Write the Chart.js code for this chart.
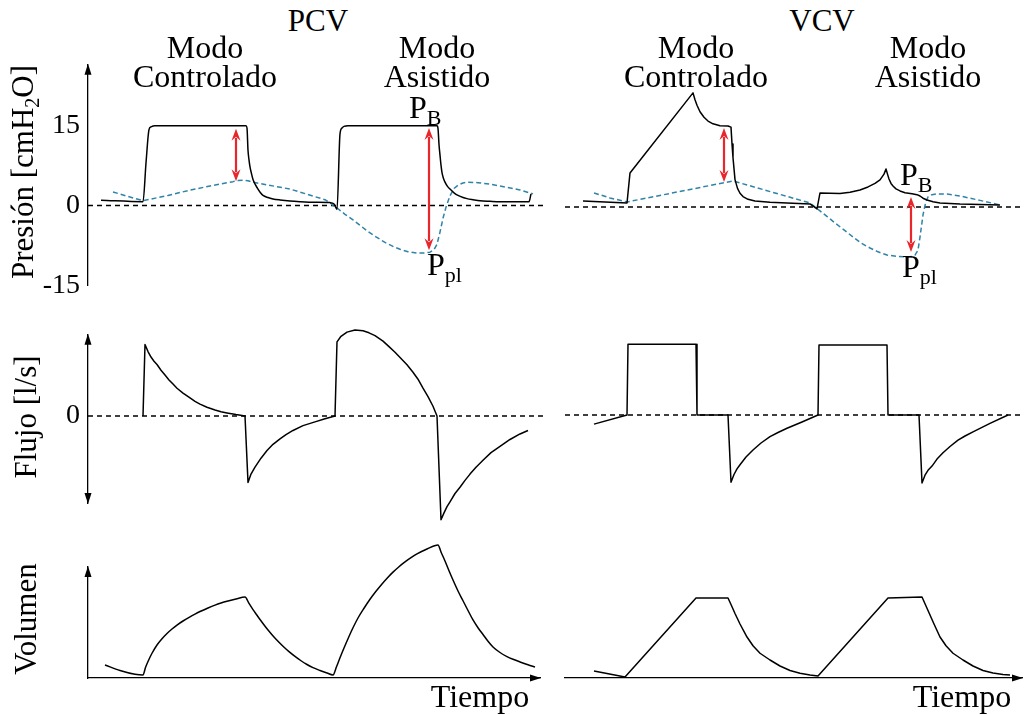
<!DOCTYPE html>
<html lang="es">
<head>
<meta charset="utf-8">
<title>PCV / VCV</title>
<script src="https://cdn.jsdelivr.net/npm/chart.js@4.4.1/dist/chart.umd.min.js"></script>
<style>
  html, body { margin: 0; padding: 0; background: #fff; }
  #fig { position: relative; width: 1024px; height: 715px; overflow: hidden;
         font-family: "Liberation Serif", "Times New Roman", serif; color: #000; }
  #fig canvas { position: absolute; }
  .lbl { position: absolute; font-size: 32px; line-height: 32px; white-space: nowrap; }
  .c { transform: translateX(-50%); text-align: center; }
  .mode { line-height: 29px; }
  .rot { transform: translate(-50%, -50%) rotate(-90deg); font-size: 31px; line-height: 31px; }
  .sub { font-size: 22px; vertical-align: -7px; }
  .sub2 { font-size: 20px; vertical-align: -6px; }
</style>
</head>
<body>
<div id="fig">
  <canvas id="pcvP" width="548" height="270" style="left:0;top:40px"></canvas>
  <canvas id="vcvP" width="476" height="270" style="left:548px;top:40px"></canvas>
  <canvas id="pcvF" width="548" height="230" style="left:0;top:310px"></canvas>
  <canvas id="vcvF" width="476" height="230" style="left:548px;top:310px"></canvas>
  <canvas id="pcvV" width="548" height="175" style="left:0;top:540px"></canvas>
  <canvas id="vcvV" width="476" height="175" style="left:548px;top:540px"></canvas>

  <div class="lbl c" style="left:318px;top:5px;font-size:31px">PCV</div>
  <div class="lbl c" style="left:822px;top:5px;font-size:31px">VCV</div>
  <div class="lbl c mode" style="left:205px;top:33px">Modo<br>Controlado</div>
  <div class="lbl c mode" style="left:437px;top:33px">Modo<br>Asistido</div>
  <div class="lbl c mode" style="left:696px;top:33px">Modo<br>Controlado</div>
  <div class="lbl c mode" style="left:928px;top:33px">Modo<br>Asistido</div>

  <div class="lbl" style="left:409px;top:91px">P<span class="sub">B</span></div>
  <div class="lbl" style="left:427px;top:248px">P<span class="sub">pl</span></div>
  <div class="lbl" style="left:900px;top:158px">P<span class="sub">B</span></div>
  <div class="lbl" style="left:902px;top:250px">P<span class="sub">pl</span></div>

  <div class="lbl rot" style="left:27px;top:172px">Presión [cmH<span class="sub2">2</span>O]</div>
  <div class="lbl rot" style="left:25px;top:417px">Flujo [l/s]</div>
  <div class="lbl rot" style="left:25px;top:619px">Volumen</div>

  <div class="lbl c" style="left:480px;top:680px">Tiempo</div>
  <div class="lbl c" style="left:962px;top:680px">Tiempo</div>
</div>

<script>
// time axis (arbitrary units) and pressure / flow / volume samples, [t, value]
const T_MAX = 9.14;
const T_MAX_VOL = 9.04;

const pressureTicks = [-15, 0, 15];
const flowTicks = [0];

const pcvPaw = [[0.26,1.0],[1.10,0.73],[1.16,8.0],[1.22,14.3],[1.26,14.8],[1.34,15.0],[3.16,15.0],
  [3.18,14.6],[3.20,10.4],[3.22,8.6],[3.24,7.3],[3.27,6.0],[3.30,4.9],[3.35,3.9],[3.40,3.1],
  [3.45,2.4],[3.50,1.9],[3.60,1.5],[3.70,1.25],[3.84,1.05],[4.04,0.85],[4.24,0.73],[4.54,0.62],
  [4.84,0.55],[4.92,0.3],[4.98,-0.73],[5.04,13.5],[5.08,14.6],[5.12,14.9],[5.20,15.0],[6.98,15.0],
  [7.00,14.5],[7.02,11.5],[7.04,9.5],[7.06,7.6],[7.08,6.2],[7.11,5.1],[7.14,4.4],[7.19,3.6],
  [7.24,3.1],[7.32,2.4],[7.40,1.9],[7.50,1.5],[7.58,1.3],[7.70,1.1],[7.84,0.9],[8.04,0.8],
  [8.24,0.73],[8.82,0.73],[8.86,2.2]];

const pcvPpl = [[0.50,2.56],[0.80,1.7],[1.10,0.91],[1.60,1.9],[2.04,2.9],[2.50,3.8],[2.90,4.5],
  [3.00,4.7],[3.10,4.75],[3.20,4.65],[3.30,4.39],[4.04,3.1],[4.74,1.1],[4.84,0.5],[4.90,0],
  [5.00,-0.6],[5.14,-1.65],[5.30,-2.7],[5.45,-3.8],[5.58,-4.75],[5.76,-5.9],[5.94,-6.95],
  [6.10,-7.7],[6.24,-8.23],[6.40,-8.7],[6.58,-8.96],[6.72,-8.95],[6.84,-8.78],[6.92,-8.3],
  [6.98,-7.3],[7.04,-5.0],[7.10,-2.4],[7.16,-0.3],[7.24,1.83],[7.32,3.2],[7.40,3.84],[7.50,4.25],
  [7.58,4.39],[7.80,4.3],[8.04,4.02],[8.34,3.5],[8.64,2.93],[8.90,2.2]];

const vcvPaw = [[0.36,1.1],[1.24,0.73],[1.30,6.22],[2.56,20.85],[2.60,19.6],[2.64,18.6],[2.70,17.4],
  [2.78,16.4],[2.86,15.7],[2.96,15.2],[3.10,14.85],[3.26,14.8],[3.32,14.6],[3.34,11.5],[3.36,9.0],
  [3.38,7.0],[3.40,5.0],[3.45,3.4],[3.50,2.5],[3.56,1.9],[3.66,1.4],[3.80,1.1],[4.10,0.85],
  [4.44,0.73],[4.90,0.55],[5.04,-0.37],[5.10,2.56],[5.30,2.5],[5.50,2.45],[5.70,2.7],[5.90,3.1],
  [6.06,3.66],[6.20,4.3],[6.30,4.94],[6.38,6.0],[6.42,6.95],[6.45,6.0],[6.48,5.1],[6.52,4.3],
  [6.56,3.84],[6.62,3.3],[6.70,2.93],[6.80,2.6],[6.94,2.4],[7.04,2.25],[7.10,2.0],[7.16,1.6],
  [7.24,1.28],[7.36,0.95],[7.50,0.73],[7.90,0.55],[8.70,0.37]];

const vcvPpl = [[0.58,2.56],[0.90,1.65],[1.24,0.91],[3.36,4.75],[4.90,0.73],[5.00,0.0],[5.10,-0.73],
  [5.25,-1.8],[5.40,-2.93],[5.58,-4.2],[5.76,-5.49],[5.92,-6.6],[6.10,-7.5],[6.26,-8.2],[6.44,-8.78],
  [6.64,-9.05],[6.84,-9.15],[6.94,-9.05],[7.00,-8.8],[7.06,-7.9],[7.10,-5.5],[7.16,-1.46],
  [7.21,0.7],[7.26,1.83],[7.34,2.25],[7.44,2.38],[7.64,2.35],[7.90,2.0],[8.30,1.2],[8.70,0.37]];

const pcvFlow = [[1.10,0],[1.14,1.03],[1.20,0.93],[1.26,0.85],[1.32,0.79],[1.38,0.743],[1.46,0.66],
  [1.54,0.59],[1.62,0.52],[1.70,0.46],[1.78,0.40],[1.90,0.33],[2.04,0.26],[2.14,0.21],[2.24,0.171],
  [2.38,0.125],[2.54,0.085],[2.66,0.06],[2.78,0.043],[2.96,0.02],[3.14,0],[3.20,-0.96],[3.26,-0.84],
  [3.34,-0.74],[3.46,-0.61],[3.58,-0.5],[3.70,-0.41],[3.84,-0.33],[3.96,-0.27],[4.10,-0.21],
  [4.30,-0.14],[4.54,-0.086],[4.74,-0.04],[4.94,0],[4.98,1.07],[5.06,1.15],[5.18,1.21],[5.34,1.24],
  [5.50,1.23],[5.62,1.2],[5.74,1.16],[5.90,1.08],[6.02,1.0],[6.14,0.92],[6.26,0.83],[6.38,0.74],
  [6.50,0.63],[6.60,0.53],[6.70,0.40],[6.80,0.28],[6.90,0.14],[6.98,0],[7.06,-1.5],[7.12,-1.4],
  [7.18,-1.31],[7.24,-1.24],[7.34,-1.12],[7.44,-1.03],[7.54,-0.93],[7.64,-0.84],[7.76,-0.74],
  [7.90,-0.64],[8.06,-0.53],[8.24,-0.44],[8.44,-0.34],[8.64,-0.26],[8.80,-0.21]];

const vcvFlow = [[0.58,-0.13],[1.24,0],[1.26,1.01],[2.62,1.01],[2.64,0],[3.26,0],[3.32,-0.96],
  [3.38,-0.85],[3.44,-0.77],[3.50,-0.71],[3.62,-0.6],[3.76,-0.5],[3.92,-0.4],[4.10,-0.31],
  [4.26,-0.25],[4.44,-0.19],[4.74,-0.1],[5.06,0],[5.08,1.0],[6.44,1.0],[6.46,0],[7.08,0],
  [7.14,-0.97],[7.20,-0.86],[7.26,-0.79],[7.34,-0.73],[7.44,-0.63],[7.56,-0.54],[7.70,-0.45],
  [7.86,-0.36],[8.00,-0.3],[8.16,-0.24],[8.50,-0.12],[8.86,0]];

const pcvVol = [[0.34,0.087],[0.64,0.05],[0.94,0.025],[1.10,0.02],[1.15,0.07],[1.20,0.11],
  [1.28,0.165],[1.38,0.22],[1.48,0.262],[1.58,0.297],[1.68,0.327],[1.78,0.353],[1.90,0.38],
  [2.04,0.408],[2.14,0.426],[2.24,0.443],[2.40,0.467],[2.54,0.486],[2.66,0.50],[2.78,0.512],
  [2.96,0.527],[3.14,0.54],[3.22,0.497],[3.30,0.456],[3.38,0.418],[3.44,0.39],[3.56,0.337],
  [3.68,0.289],[3.80,0.245],[3.90,0.212],[4.02,0.176],[4.14,0.144],[4.26,0.115],[4.38,0.09],
  [4.50,0.069],[4.64,0.05],[4.78,0.033],[4.90,0.02],[4.97,0.075],[5.04,0.135],[5.12,0.20],
  [5.20,0.262],[5.30,0.335],[5.40,0.40],[5.52,0.465],[5.64,0.525],[5.76,0.578],[5.88,0.627],
  [6.00,0.672],[6.10,0.706],[6.22,0.742],[6.34,0.774],[6.46,0.802],[6.58,0.827],[6.78,0.86],
  [7.00,0.887],[7.06,0.84],[7.14,0.78],[7.22,0.715],[7.30,0.653],[7.40,0.58],[7.50,0.515],
  [7.60,0.45],[7.70,0.387],[7.80,0.335],[7.90,0.29],[8.00,0.245],[8.10,0.207],[8.24,0.17],
  [8.38,0.143],[8.50,0.125],[8.64,0.107],[8.80,0.088],[8.94,0.073]];

const vcvVol = [[0.58,0.047],[1.20,0.007],[2.62,0.533],[3.26,0.533],[3.32,0.49],[3.40,0.43],
  [3.50,0.36],[3.64,0.273],[3.76,0.215],[3.90,0.165],[4.10,0.12],[4.30,0.08],[4.50,0.05],
  [4.70,0.032],[4.90,0.02],[5.06,0.013],[6.46,0.533],[7.14,0.54],[7.20,0.495],[7.28,0.435],
  [7.38,0.36],[7.50,0.273],[7.62,0.215],[7.76,0.165],[7.96,0.12],[8.16,0.08],[8.36,0.05],
  [8.56,0.033],[8.76,0.024],[8.90,0.02]];

// alveolar-minus-pleural gradient markers: time, upper and lower pressure
const pcvArrows = [{t: 2.96, from: 14.45, to: 4.57}, {t: 6.82, from: 14.6, to: -8.4}];
const vcvArrows = [{t: 3.18, from: 14.45, to: 4.57}, {t: 6.92, from: 1.83, to: -8.23}];

const SERIF = '"Liberation Serif", "Times New Roman", serif';
const BLUE = '#2f83a8';
const RED = '#e8262c';

const xy = pts => pts.map(p => ({x: p[0], y: p[1]}));

// smooth = monotone cubic through the samples, otherwise straight segments
const solid = (pts, smooth) => ({
  data: xy(pts), borderColor: '#000', borderWidth: 1.5,
  tension: 0, cubicInterpolationMode: smooth ? 'monotone' : 'default',
  borderJoinStyle: 'round', clip: false
});
const dashedBlue = pts => ({
  data: xy(pts), borderColor: BLUE, borderWidth: 1.5, borderDash: [5, 3], tension: 0,
  borderJoinStyle: 'round', clip: false
});
const zeroLine = tMax => ({
  data: [{x: 0, y: 0}, {x: tMax, y: 0}], borderColor: '#000', borderWidth: 1.4,
  borderDash: [5, 4], tension: 0, clip: false
});

// arrowheads at the ends of the axis lines
const axisArrows = {
  id: 'axisArrows',
  afterDraw(chart, args, opts) {
    const {ctx, chartArea: a} = chart;
    const head = (x, y, dx, dy) => {
      const L = 11, W = 3.5;
      const bx = x - dx * L, by = y - dy * L;
      ctx.beginPath();
      ctx.moveTo(x, y);
      ctx.lineTo(bx - dy * W, by + dx * W);
      ctx.lineTo(bx + dy * W, by - dx * W);
      ctx.closePath();
      ctx.fill();
    };
    ctx.save();
    ctx.fillStyle = '#000';
    if (opts.up) head(a.left, a.top - 1, 0, -1);
    if (opts.down) head(a.left, a.bottom + 1, 0, 1);
    if (opts.right) head(a.right + 1, a.bottom, 1, 0);
    ctx.restore();
  }
};

// red double-headed arrows between two pressure values
const gradientArrows = {
  id: 'gradientArrows',
  afterDatasetsDraw(chart, args, opts) {
    const items = opts.items || [];
    const {ctx, scales: {x, y}} = chart;
    const L = 12, W = 4.5;
    ctx.save();
    ctx.strokeStyle = RED;
    ctx.fillStyle = RED;
    ctx.lineWidth = 2.2;
    items.forEach(it => {
      const px = x.getPixelForValue(it.t);
      const y1 = y.getPixelForValue(it.from);
      const y2 = y.getPixelForValue(it.to);
      ctx.beginPath();
      ctx.moveTo(px, y1 + L - 3);
      ctx.lineTo(px, y2 - L + 3);
      ctx.stroke();
      [[y1, 1], [y2, -1]].forEach(([ty, d]) => {
        ctx.beginPath();
        ctx.moveTo(px, ty);
        ctx.lineTo(px - W, ty + d * L);
        ctx.lineTo(px, ty + d * (L - 4));
        ctx.lineTo(px + W, ty + d * L);
        ctx.closePath();
        ctx.fill();
      });
    });
    ctx.restore();
  }
};

function makeChart(id, cfg) {
  const ticks = cfg.yTicks || [];
  return new Chart(document.getElementById(id), {
    type: 'line',
    data: {datasets: cfg.datasets},
    plugins: [axisArrows, gradientArrows],
    options: {
      responsive: false,
      animation: false,
      devicePixelRatio: 1,
      layout: {padding: cfg.pad},
      elements: {point: {radius: 0}},
      plugins: {
        legend: {display: false},
        tooltip: {enabled: false},
        axisArrows: cfg.arrows || {},
        gradientArrows: {items: cfg.gradients || []}
      },
      scales: {
        x: {
          type: 'linear', min: 0, max: cfg.xMax || T_MAX,
          display: !!cfg.showX,
          grid: {display: false, drawTicks: false},
          ticks: {display: false},
          border: {display: true, color: '#000', width: 1.3},
          afterFit(s) { s.height = 0; }
        },
        y: {
          type: 'linear', min: cfg.yMin, max: cfg.yMax,
          display: !!cfg.showY, position: 'left',
          grid: {display: false, drawTicks: false},
          border: {display: true, color: '#000', width: 1.3},
          ticks: {
            display: ticks.length > 0, color: '#000', padding: 8,
            font: {family: SERIF, size: 28},
            callback: v => String(v)
          },
          afterBuildTicks(s) { if (ticks.length) s.ticks = ticks.map(v => ({value: v})); },
          afterFit(s) { s.width = cfg.showY ? 88 : 0; }
        }
      }
    }
  });
}

// pressure
makeChart('pcvP', {
  datasets: [solid(pcvPaw, true), dashedBlue(pcvPpl), zeroLine(T_MAX)],
  yMin: -15, yMax: 26.5, yTicks: pressureTicks, showY: true,
  pad: {left: 0, top: 22, right: 3, bottom: 21},
  arrows: {up: true}, gradients: pcvArrows
});
makeChart('vcvP', {
  datasets: [solid(vcvPaw), dashedBlue(vcvPpl), zeroLine(T_MAX)],
  yMin: -15, yMax: 26.5,
  pad: {left: 17, top: 22, right: 2, bottom: 21},
  gradients: vcvArrows
});

// flow
makeChart('pcvF', {
  datasets: [solid(pcvFlow), zeroLine(T_MAX)],
  yMin: -1.2571, yMax: 1.1714, yTicks: flowTicks, showY: true,
  pad: {left: 0, top: 23, right: 3, bottom: 37},
  arrows: {up: true, down: true}
});
makeChart('vcvF', {
  datasets: [solid(vcvFlow), zeroLine(T_MAX)],
  yMin: -1.2571, yMax: 1.1714,
  pad: {left: 17, top: 23, right: 2, bottom: 37}
});

// volume
makeChart('pcvV', {
  datasets: [solid(pcvVol, true)],
  yMin: 0, yMax: 0.74, showY: true, showX: true, xMax: T_MAX_VOL,
  pad: {left: 0, top: 27, right: 8, bottom: 37},
  arrows: {up: true, right: true}
});
makeChart('vcvV', {
  datasets: [solid(vcvVol)],
  yMin: 0, yMax: 0.74, showX: true,
  pad: {left: 17, top: 27, right: 2, bottom: 37},
  arrows: {right: true}
});
</script>
</body>
</html>
